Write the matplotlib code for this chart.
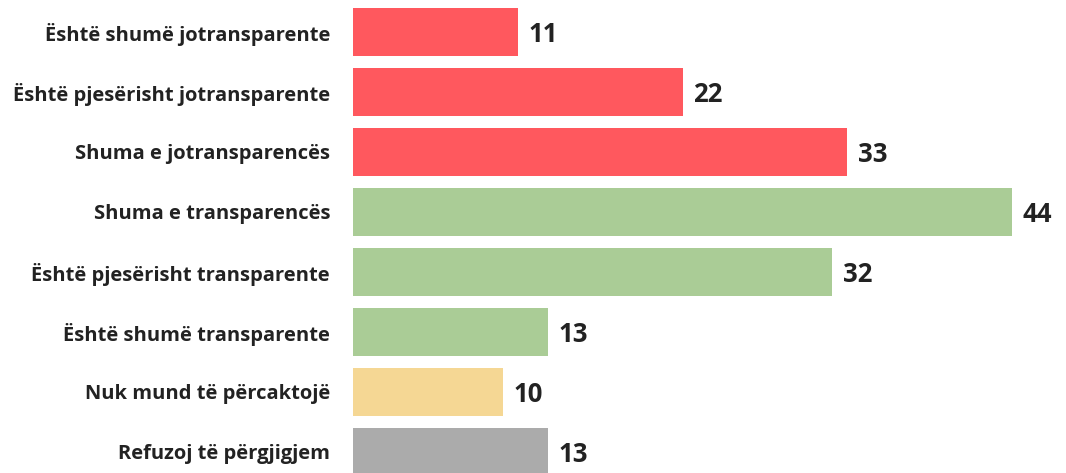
import matplotlib
matplotlib.use("Agg")
import matplotlib.pyplot as plt

categories = [
    "Është shumë jotransparente",
    "Është pjesërisht jotransparente",
    "Shuma e jotransparencës",
    "Shuma e transparencës",
    "Është pjesërisht transparente",
    "Është shumë transparente",
    "Nuk mund të përcaktojë",
    "Refuzoj të përgjigjem",
]
values = [11, 22, 33, 44, 32, 13, 10, 13]
colors = ["#FF585E", "#FF585E", "#FF585E",
          "#AACC96", "#AACC96", "#AACC96",
          "#F5D794", "#ABABAB"]

plt.rcParams["font.family"] = ["Open Sans", "DejaVu Sans"]

fig = plt.figure(figsize=(10.66, 4.73), dpi=100)
ax = fig.add_axes([353 / 1066, 0, 1 - 353 / 1066, 1])

pos = list(range(len(categories)))
ax.barh(pos, values, height=0.8, color=colors)
ax.set_xlim(0, 47.6)
ax.set_ylim(7.35, -0.533)

for p, v in zip(pos, values):
    ax.text(v + 0.7, p + 0.05, str(v), va="center", ha="left",
            fontsize=18.5, fontweight="bold", color="#222222")

ax.set_yticks(pos)
ax.set_yticklabels(categories, fontsize=14.5, fontweight="bold", color="#222222")
ax.tick_params(axis="y", length=0, pad=16.5)
ax.set_xticks([])
for s in ax.spines.values():
    s.set_visible(False)

fig.savefig("out.png", dpi=100)
